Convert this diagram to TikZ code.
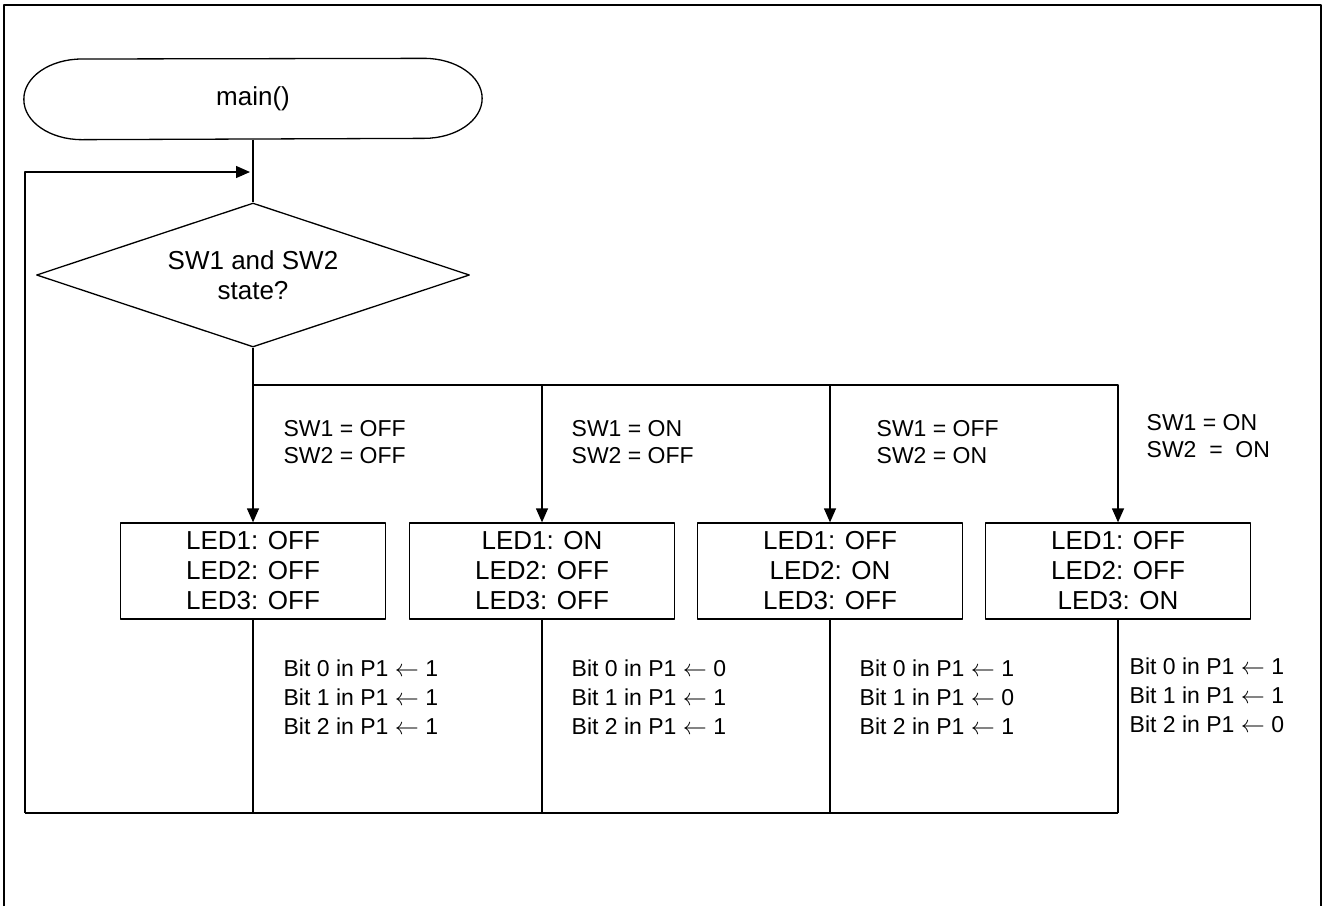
\documentclass[tikz,border=0pt]{standalone}
\usepackage{fontspec}
\setmainfont{Liberation Sans}
\usetikzlibrary{arrows.meta,shapes.geometric,positioning,calc}

\begin{document}
\begin{tikzpicture}[x=0.5pt,y=-0.5pt,line width=0.65pt,line join=round,
  >={Triangle[length=7pt,width=6pt]},
  heavy/.style={line width=1pt},
  ledbox/.style={draw,minimum width=132.5pt,minimum height=48pt,inner sep=0pt,align=center,font=\fontsize{13}{15}\selectfont},
  cond/.style={anchor=base west,align=left,inner sep=0pt,font=\fontsize{11.5}{13.5}\selectfont},
  bits/.style={anchor=base west,align=left,inner sep=0pt,font=\fontsize{11.5}{14.3}\selectfont}]
\useasboundingbox (0,0) rectangle (1325,906);
\draw[heavy] (4,906) |- (1321,5) -- (1321,906);

\node[minimum width=228.5pt,minimum height=40pt,inner sep=0pt,font=\fontsize{13}{15}\selectfont] (start) at (253,99) {main()};
\draw (start.west) arc[start angle=180,end angle=90,x radius=29pt,y radius=20pt]
  -- ([xshift=-29pt]start.north east)
  arc[start angle=90,end angle=-90,x radius=29pt,y radius=20pt]
  -- ([xshift=29pt]start.south west)
  arc[start angle=270,end angle=180,x radius=29pt,y radius=20pt] -- cycle;
\node[diamond,draw,aspect=3,inner sep=0pt,minimum width=216.5pt,minimum height=72pt,align=center,font=\fontsize{13}{15}\selectfont] (check) at (253,275) {SW1 and SW2\\state?};

\node[ledbox] (led1) at (253,571) {LED1: OFF\\LED2: OFF\\LED3: OFF};
\node[ledbox] (led2) at (542,571) {LED1: ON\\LED2: OFF\\LED3: OFF};
\node[ledbox] (led3) at (830,571) {LED1: OFF\\LED2: ON\\LED3: OFF};
\node[ledbox] (led4) at (1118,571) {LED1: OFF\\LED2: OFF\\LED3: ON};

\node[cond] (c1) at (283,463) {SW1 = OFF\\SW2 = OFF};
\node[cond] (c2) at (571,463) {SW1 = ON\\SW2 = OFF};
\node[cond] (c3) at (876,463) {SW1 = OFF\\SW2 = ON};
\node[cond] (c4) at (1146,457) {SW1 = ON\\SW2\ \ =\ \ ON};

\node[bits] (b1) at (283,734) {Bit 0 in P1 $\leftarrow$ 1\\Bit 1 in P1 $\leftarrow$ 1\\Bit 2 in P1 $\leftarrow$ 1};
\node[bits] (b2) at (571,734) {Bit 0 in P1 $\leftarrow$ 0\\Bit 1 in P1 $\leftarrow$ 1\\Bit 2 in P1 $\leftarrow$ 1};
\node[bits] (b3) at (859,734) {Bit 0 in P1 $\leftarrow$ 1\\Bit 1 in P1 $\leftarrow$ 0\\Bit 2 in P1 $\leftarrow$ 1};
\node[bits] (b4) at (1129,732) {Bit 0 in P1 $\leftarrow$ 1\\Bit 1 in P1 $\leftarrow$ 1\\Bit 2 in P1 $\leftarrow$ 0};

\coordinate (bus) at (253,385);
\coordinate (ret) at (25,813);
\coordinate (join) at (250,172);

\draw (start) -- (check);
\draw[heavy] (check.south) -- (bus) -- (led3 |- bus);
\draw[->] (led3 |- bus) -| (led4);
\path[->]
(bus) edge (led1) (led2 |- bus) edge (led2) (led3 |- bus) edge (led3)
;
\path
(led1) edge (led1 |- ret) (led2) edge (led2 |- ret) (led3) edge (led3 |- ret) (led4) edge (led4 |- ret)
;
\draw[heavy] (led2 |- ret) -- (ret);
\draw (led4 |- ret) -- (led2 |- ret);
\draw[->] (ret) |- (join);
\end{tikzpicture}
\end{document}
